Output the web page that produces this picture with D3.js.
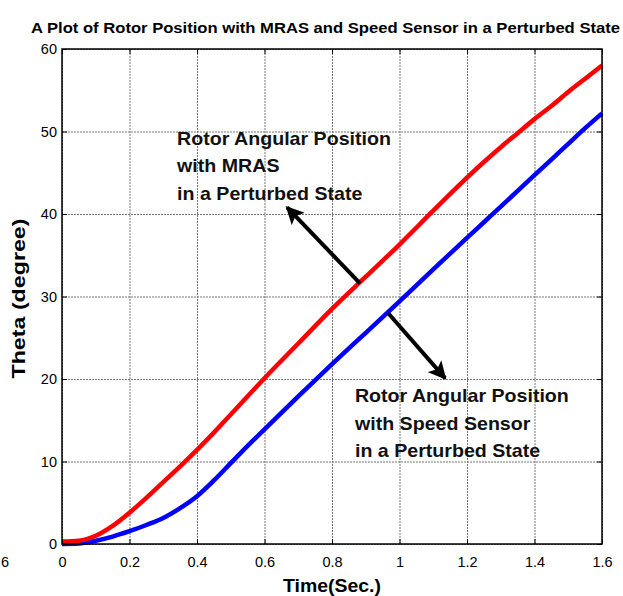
<!DOCTYPE html>
<html>
<head>
<meta charset="utf-8">
<script src="https://cdn.jsdelivr.net/npm/d3@7"></script>
<style>
  body { margin: 0; background: #fff; }
  svg { display: block; font-family: "Liberation Sans", Arial, sans-serif; }
</style>
</head>
<body>
<div id="chart"></div>
<script>
// Time samples (s)
const time = [0, 0.05, 0.1, 0.15, 0.2, 0.25, 0.3, 0.35, 0.4, 0.45, 0.5, 0.55, 0.6, 0.7, 0.8, 0.9, 1.0, 1.1, 1.2, 1.25, 1.3, 1.35, 1.4, 1.45, 1.5, 1.55, 1.6];
// Rotor angular position with MRAS (degree)
const mras = [0.3, 0.4, 1.0, 2.2, 3.8, 5.6, 7.5, 9.4, 11.4, 13.5, 15.7, 17.9, 20.1, 24.3, 28.5, 32.4, 36.3, 40.4, 44.4, 46.3, 48.1, 49.8, 51.5, 53.1, 54.8, 56.4, 58.0];
// Rotor angular position with speed sensor (degree)
const sensor = [0, 0.05, 0.4, 0.9, 1.55, 2.3, 3.15, 4.35, 5.8, 7.7, 9.8, 11.9, 13.9, 17.9, 21.8, 25.6, 29.4, 33.3, 37.1, 39.0, 40.9, 42.8, 44.7, 46.6, 48.5, 50.4, 52.2];

const xTicks = [0, 0.2, 0.4, 0.6, 0.8, 1.0, 1.2, 1.4, 1.6];
const yTicks = [0, 10, 20, 30, 40, 50, 60];

// annotations: text lines, text anchor point, arrow tail, arrow tip (data units)
const notes = [
  { lines: ["Rotor Angular Position", "with MRAS", "in a Perturbed State"], at: [0.341, 48.4], from: [0.883, 31.6], to: [0.667, 40.8] },
  { lines: ["Rotor Angular Position", "with Speed Sensor", "in a Perturbed State"], at: [0.868, 17.2], from: [0.966, 28.0], to: [1.135, 20.1] }
];

const width = 623, height = 596;
const margin = { top: 49, right: 21, bottom: 52, left: 62 };
const plotW = width - margin.left - margin.right,
      plotH = height - margin.top - margin.bottom;

const svg = d3.select("#chart").append("svg")
  .attr("width", width).attr("height", height);

const x = d3.scaleLinear([0, 1.6], [margin.left, margin.left + plotW]);
const y = d3.scaleLinear([0, 60], [margin.top + plotH, margin.top]);

// Grid
svg.append("g")
  .attr("transform", `translate(0, ${margin.top + plotH})`)
  .call(d3.axisBottom(x).tickValues(xTicks).tickSize(-plotH).tickFormat(""))
  .call(g => g.select(".domain").remove())
  .selectAll("line").attr("stroke", "#777").attr("stroke-dasharray", "2,1");
svg.append("g")
  .attr("transform", `translate(${margin.left}, 0)`)
  .call(d3.axisLeft(y).tickValues(yTicks).tickSize(-plotW).tickFormat(""))
  .call(g => g.select(".domain").remove())
  .selectAll("line").attr("stroke", "#777").attr("stroke-dasharray", "2,1");

// Curves
const line = d3.line().x((d, i) => x(time[i])).y(d => y(d)).curve(d3.curveMonotoneX);
svg.append("path").datum(sensor)
  .attr("fill", "none").attr("stroke", "#0000ff").attr("stroke-width", 4.5).attr("d", line);
svg.append("path").datum(mras)
  .attr("fill", "none").attr("stroke", "#ff0000").attr("stroke-width", 4.5).attr("d", line);

// Axes, ticks inward on all four sides
const fmt = d => String(+d.toFixed(1));
const axB = svg.append("g").attr("transform", `translate(0, ${margin.top + plotH})`)
  .call(d3.axisBottom(x).tickValues(xTicks).tickSize(-5).tickPadding(13).tickFormat(fmt));
const axL = svg.append("g").attr("transform", `translate(${margin.left}, 0)`)
  .call(d3.axisLeft(y).tickValues(yTicks).tickSize(-5).tickPadding(5));
const axT = svg.append("g").attr("transform", `translate(0, ${margin.top})`)
  .call(d3.axisTop(x).tickValues(xTicks).tickSize(-5).tickFormat(""));
const axR = svg.append("g").attr("transform", `translate(${margin.left + plotW}, 0)`)
  .call(d3.axisRight(y).tickValues(yTicks).tickSize(-5).tickFormat(""));
[axB, axL, axT, axR].forEach(a => {
  a.select(".domain").remove();
  a.selectAll("text").attr("font-size", 14.5).attr("fill", "#000")
    .attr("font-family", "'Liberation Sans', Arial, sans-serif");
  a.selectAll("line").attr("stroke", "#000");
});
svg.append("rect")
  .attr("x", margin.left).attr("y", margin.top).attr("width", plotW).attr("height", plotH)
  .attr("fill", "none").attr("stroke", "#000").attr("stroke-width", 1.5);

// Arrows
svg.append("defs").append("marker")
  .attr("id", "head").attr("markerUnits", "userSpaceOnUse")
  .attr("viewBox", "0 0 18 18").attr("refX", 16).attr("refY", 9)
  .attr("markerWidth", 18).attr("markerHeight", 18).attr("orient", "auto")
  .append("path").attr("d", "M0,0 L18,9 L0,18 L4,9 Z").attr("fill", "#000");

notes.forEach(n => {
  svg.append("line")
    .attr("x1", x(n.from[0])).attr("y1", y(n.from[1]))
    .attr("x2", x(n.to[0])).attr("y2", y(n.to[1]))
    .attr("stroke", "#000").attr("stroke-width", 4).attr("marker-end", "url(#head)");
  const t = svg.append("text")
    .attr("x", x(n.at[0])).attr("y", y(n.at[1]))
    .attr("font-size", 18.5).attr("font-weight", "bold").attr("fill", "#111");
  n.lines.forEach((s, i) => {
    const sp = t.append("tspan").attr("x", x(n.at[0])).attr("dy", i ? 27.5 : 0).text(s);
    const w = sp.node().getComputedTextLength();
    sp.attr("textLength", w * 1.06).attr("lengthAdjust", "spacingAndGlyphs");
  });
});

// Titles
svg.append("text")
  .attr("x", 31).attr("y", 33)
  .attr("font-size", 14).attr("font-weight", "bold")
  .attr("textLength", 589).attr("lengthAdjust", "spacingAndGlyphs")
  .text("A Plot of Rotor Position with MRAS and Speed Sensor in a Perturbed State");

svg.append("text")
  .attr("transform", `translate(25, ${margin.top + plotH / 2 + 2})rotate(-90)`)
  .attr("text-anchor", "middle").attr("font-size", 18).attr("font-weight", "bold")
  .attr("textLength", 160).attr("lengthAdjust", "spacingAndGlyphs")
  .text("Theta (degree)");

svg.append("text")
  .attr("x", margin.left + plotW / 2).attr("y", 592)
  .attr("text-anchor", "middle").attr("font-size", 18).attr("font-weight", "bold")
  .attr("textLength", 98).attr("lengthAdjust", "spacingAndGlyphs")
  .text("Time(Sec.)");

// label clipped from a neighbouring figure
svg.append("text")
  .attr("x", 9).attr("y", 567).attr("text-anchor", "end")
  .attr("font-size", 14.5).text("1.6");
</script>
</body>
</html>
